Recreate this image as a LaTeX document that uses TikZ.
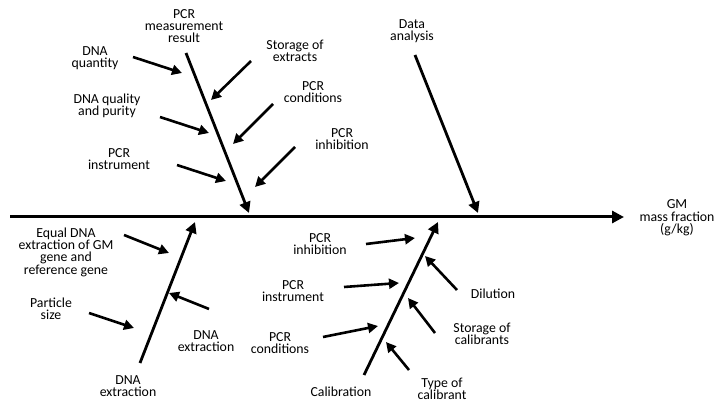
\documentclass[tikz,border=0pt]{standalone}
\usepackage{fontspec}
\setmainfont{Carlito}
\usetikzlibrary{arrows.meta}
\begin{document}
\begin{tikzpicture}[x=1pt,y=-1pt,
  lbl/.style={align=center,font=\fontsize{13.8}{12.4}\selectfont,inner sep=0pt},
  bone/.style={line width=2.8pt,-{Triangle[length=11pt,width=11pt]}},
  rib/.style={line width=2.6pt,-{Triangle[length=10pt,width=10pt]}}]
\useasboundingbox (0,0) rectangle (717,403);
% spine
\coordinate (s0) at (10,217);
\coordinate (s1) at (624,217);
\draw[line width=3pt,-{Triangle[length=12pt,width=12pt]}] (s0) -- (s1);
\node[lbl] (gm) at (677,218) {GM\\mass fraction\\(g/kg)};
% upper bone 1
\node[lbl] (pcrres) at (184,26) {PCR\\measurement\\result};
\coordinate (b1a) at (186,53); \coordinate (b1b) at (249,213);
\draw[bone] (b1a) -- (b1b);
\node[lbl] (dnaq) at (95,58) {DNA\\quantity};
\coordinate (r1a) at (133,57); \coordinate (r1b) at (182,73);
\draw[rib] (r1a) -- (r1b);
\node[lbl] (dnaqp) at (107,106) {DNA quality\\and purity};
\coordinate (r2a) at (160,117); \coordinate (r2b) at (209,133);
\draw[rib] (r2a) -- (r2b);
\node[lbl] (pcrinst1) at (119,159) {PCR\\instrument};
\coordinate (r3a) at (177,165); \coordinate (r3b) at (226,181);
\draw[rib] (r3a) -- (r3b);
\node[lbl] (storext) at (295,51) {Storage of\\extracts};
\coordinate (r4a) at (251,61); \coordinate (r4b) at (211,100);
\draw[rib] (r4a) -- (r4b);
\node[lbl] (pcrcond1) at (313,92) {PCR\\conditions};
\coordinate (r5a) at (273,104); \coordinate (r5b) at (233,144);
\draw[rib] (r5a) -- (r5b);
\node[lbl] (pcrinh1) at (342,139) {PCR\\inhibition};
\coordinate (r6a) at (295,147); \coordinate (r6b) at (255,187);
\draw[rib] (r6a) -- (r6b);
% data analysis
\node[lbl] (data) at (412,31) {Data\\analysis};
\coordinate (d1a) at (415,55); \coordinate (d1b) at (478,213);
\draw[bone] (d1a) -- (d1b);
% lower bone left
\node[lbl] (dnaext) at (128,386) {DNA\\extraction};
\coordinate (b2a) at (140,363); \coordinate (b2b) at (195,222);
\draw[bone] (b2a) -- (b2b);
\node[lbl] (equal) at (66,252) {Equal DNA\\extraction of GM\\gene and\\reference gene};
\coordinate (q1a) at (124,235); \coordinate (q1b) at (169,253);
\draw[rib] (q1a) -- (q1b);
\node[lbl] (part) at (51,309) {Particle\\size};
\coordinate (q2a) at (89,313); \coordinate (q2b) at (134,328);
\draw[rib] (q2a) -- (q2b);
\node[lbl] (dnaext2) at (206,341) {DNA\\extraction};
\coordinate (q3a) at (209,309); \coordinate (q3b) at (169,293);
\draw[rib] (q3a) -- (q3b);
% lower bone right
\node[lbl] (calib) at (341,392) {Calibration};
\coordinate (b3a) at (364,375); \coordinate (b3b) at (438,222);
\draw[bone] (b3a) -- (b3b);
\node[lbl] (pcrinh2) at (320,244) {PCR\\inhibition};
\coordinate (c1a) at (366,244); \coordinate (c1b) at (415,238);
\draw[rib] (c1a) -- (c1b);
\node[lbl] (pcrinst2) at (293,291) {PCR\\instrument};
\coordinate (c2a) at (344,287); \coordinate (c2b) at (399,283);
\draw[rib] (c2a) -- (c2b);
\node[lbl] (pcrcond2) at (280,343) {PCR\\conditions};
\coordinate (c3a) at (323,337); \coordinate (c3b) at (378,326);
\draw[rib] (c3a) -- (c3b);
\node[lbl] (dil) at (493,294) {Dilution};
\coordinate (c4a) at (457,290); \coordinate (c4b) at (425,256);
\draw[rib] (c4a) -- (c4b);
\node[lbl] (storcal) at (482,334) {Storage of\\calibrants};
\coordinate (c5a) at (435,333); \coordinate (c5b) at (408,298);
\draw[rib] (c5a) -- (c5b);
\node[lbl] (type) at (442,389) {Type of\\calibrant};
\coordinate (c6a) at (409,370); \coordinate (c6b) at (386,342);
\draw[rib] (c6a) -- (c6b);
\end{tikzpicture}
\end{document}
